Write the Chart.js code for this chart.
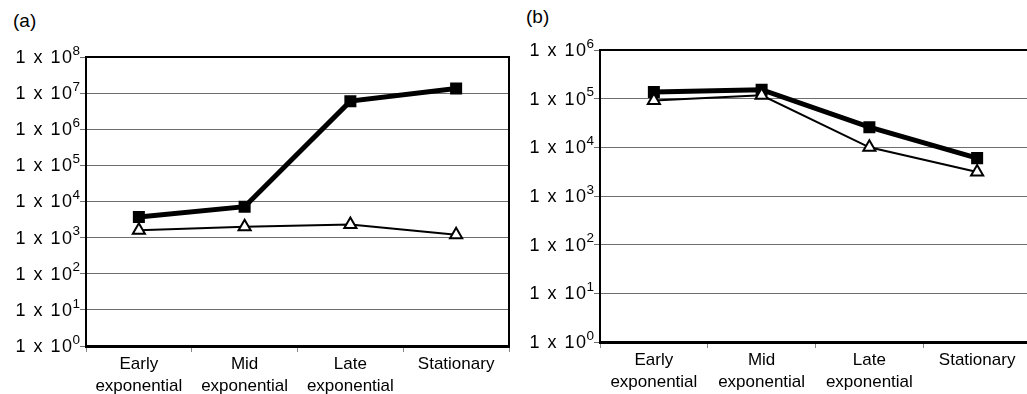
<!DOCTYPE html>
<html>
<head>
<meta charset="utf-8">
<script src="https://cdn.jsdelivr.net/npm/chart.js@4/dist/chart.umd.min.js"></script>
<style>
  html, body { margin: 0; padding: 0; background: #fff; overflow: hidden; width: 1027px; height: 394px; }
  .wrap { position: absolute; top: 0; }
  #wa { left: 0; width: 520px; height: 394px; }
  #wb { left: 510px; width: 530px; height: 394px; }
  .panel-label { position: absolute; font-family: "Liberation Sans", Arial, sans-serif; font-size: 19px; color: #000; }
</style>
</head>
<body>
<div class="panel-label" style="left:13px; top:10px;">(a)</div>
<div class="panel-label" style="left:526px; top:6px;">(b)</div>
<div class="wrap" id="wa"><canvas id="ca"></canvas></div>
<div class="wrap" id="wb"><canvas id="cb"></canvas></div>
<script>
// ---- data ----
const categories = [['Early', 'exponential'], ['Mid', 'exponential'], ['Late', 'exponential'], ['Stationary']];
const squareA = [3700, 7200, 6.0e6, 1.35e7];
const triangleA = [1600, 2000, 2300, 1200];
const squareB = [1.37e5, 1.53e5, 2.6e4, 6.0e3];
const triangleB = [9.2e4, 1.17e5, 1.0e4, 3.1e3];
const exponentsA = [0, 1, 2, 3, 4, 5, 6, 7, 8];
const exponentsB = [0, 1, 2, 3, 4, 5, 6];

const FONT = '"Liberation Sans", Arial, Helvetica, sans-serif';

// draws "1 x 10^n" tick labels with a real superscript, positioned via the y scale
const supLabels = {
  id: 'supLabels',
  afterDraw(chart, args, opts) {
    const ctx = chart.ctx;
    const y = chart.scales.y;
    ctx.save();
    ctx.fillStyle = '#000';
    ctx.textBaseline = 'middle';
    ctx.textAlign = 'left';
    for (const e of opts.exps) {
      const py = y.getPixelForValue(Math.pow(10, e));
      const base = '1 x 10';
      const sup = String(e);
      ctx.font = '13.5px ' + FONT;
      const sw = ctx.measureText(sup).width;
      ctx.font = '18px ' + FONT;
      ctx.letterSpacing = '1.5px';
      const bw = ctx.measureText(base).width;
      const right = chart.chartArea.left - 5;
      const x0 = right - sw - bw;
      ctx.fillText(base, x0, py + 1);
      ctx.letterSpacing = '0px';
      ctx.font = '13.5px ' + FONT;
      ctx.fillText(sup, x0 + bw - 1, py - 6);
    }
    ctx.restore();
  }
};

// frame around plot area (top / right)
const frame = {
  id: 'frame',
  afterDatasetsDraw(chart, args, opts) {
    const ctx = chart.ctx, a = chart.chartArea;
    ctx.save();
    ctx.strokeStyle = '#000';
    ctx.lineWidth = 2;
    ctx.beginPath();
    ctx.moveTo(a.left, a.top);
    ctx.lineTo(a.right, a.top);
    if (opts.right) ctx.lineTo(a.right, a.bottom);
    ctx.stroke();
    ctx.restore();
  }
};

function makeChart(id, sq, tri, exps, layout) {
  const maxV = Math.pow(10, exps[exps.length - 1]);
  return new Chart(document.getElementById(id), {
    type: 'line',
    data: {
      labels: categories,
      datasets: [
        {
          data: tri,
          borderColor: '#000',
          borderWidth: 2,
          pointStyle: 'triangle',
          pointRadius: 7,
          pointBorderWidth: 2,
          pointBackgroundColor: '#fff',
          pointBorderColor: '#000',
          tension: 0
        },
        {
          data: sq,
          borderColor: '#000',
          borderWidth: 5,
          pointStyle: 'rect',
          pointRadius: 8.5,
          pointBorderWidth: 0,
          pointBackgroundColor: '#000',
          pointBorderColor: '#000',
          tension: 0
        }
      ]
    },
    options: {
      responsive: true,
      maintainAspectRatio: false,
      animation: false,
      layout: { padding: { left: 0, right: layout.right, top: layout.top, bottom: 0 } },
      plugins: {
        legend: { display: false },
        tooltip: { enabled: false },
        supLabels: { exps: exps },
        frame: { right: layout.frameRight }
      },
      scales: {
        x: {
          type: 'category',
          offset: true,
          grid: { offset: true, drawOnChartArea: false, drawTicks: true, tickLength: 6, color: '#888', lineWidth: 1 },
          border: { color: '#000', width: 3 },
          ticks: { color: '#000', font: { family: FONT, size: 17, lineHeight: 1.25 }, padding: 2, maxRotation: 0, autoSkip: false },
          afterFit(s) { s.height = layout.xh; }
        },
        y: {
          type: 'logarithmic',
          min: 1,
          max: maxV,
          afterBuildTicks(s) { s.ticks = exps.map(e => ({ value: Math.pow(10, e) })); },
          grid: { color: '#6e6e6e', lineWidth: 1, tickLength: 6, drawTicks: true },
          border: { color: '#000', width: 2 },
          ticks: { callback: () => '', padding: 0 },
          afterFit(s) { s.width = layout.yw; }
        }
      }
    },
    plugins: [supLabels, frame]
  });
}

makeChart('ca', squareA, triangleA, exponentsA, { right: 11, top: 57, xh: 48, yw: 86, frameRight: true });
makeChart('cb', squareB, triangleB, exponentsB, { right: 0, top: 50, xh: 52, yw: 90, frameRight: false });
</script>
</body>
</html>
